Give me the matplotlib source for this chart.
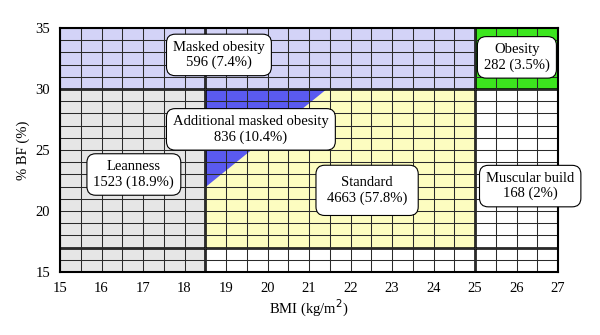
import numpy as np
import matplotlib
matplotlib.use("Agg")
import matplotlib.pyplot as plt

plt.rcParams['font.family'] = ['Liberation Serif', 'DejaVu Serif']

# ---- data ----
bmi_cut = [18.5, 25.0]          # BMI thresholds (kg/m2)
bf_cut = [17.0, 30.0]           # %BF thresholds
bmi_range = [15, 27]
bf_range = [15, 35]

region_names = ["Masked obesity", "Obesity", "Leanness", "Standard",
                "Muscular build", "Additional masked obesity"]
region_counts = [596, 282, 1523, 4663, 168, 836]
region_pcts = ["7.4%", "3.5%", "18.9%", "57.8%", "2%", "10.4%"]

# rectangles: (bmi_lo, bmi_hi, bf_lo, bf_hi)
region_rects = {
    "Masked obesity": (15, 25, 30, 35),
    "Obesity": (25, 27, 30, 35),
    "Leanness": (15, 18.5, 15, 30),
    "Standard": (18.5, 25, 17, 30),
}
# additional masked obesity polygon (BMI, %BF)
amo_bmi = [18.5, 21.43, 18.5]
amo_bf = [30.0, 30.0, 21.94]

colors = {
    "Masked obesity": "#d3d3f7",
    "Obesity": "#3ce61e",
    "Leanness": "#e6e6e6",
    "Standard": "#fdfdc0",
    "Additional masked obesity": "#5a5af0",
}

# label positions (data coords) and box padding
label_pos = {
    "Masked obesity": (18.83, 32.8),
    "Obesity": (26.01, 32.6),
    "Leanness": (16.78, 23.0),
    "Standard": (22.4, 21.7),
    "Muscular build": (26.33, 22.05),
    "Additional masked obesity": (19.6, 26.7),
}
label_pad = {"Standard": 0.75}

fig = plt.figure(figsize=(6.0, 3.35), dpi=100)
ax = fig.add_axes([0.1, 0.188, 0.83, 0.7284])

for name, (x0, x1, y0, y1) in region_rects.items():
    ax.fill([x0, x1, x1, x0], [y0, y0, y1, y1], color=colors[name], lw=0, zorder=0)
ax.fill(amo_bmi, amo_bf, color=colors["Additional masked obesity"], lw=0, zorder=0.5)

ax.set_xlim(*bmi_range)
ax.set_ylim(*bf_range)
ax.set_xticks(np.arange(15, 27.01, 1))
ax.set_yticks(np.arange(15, 35.01, 5))
ax.set_xticks(np.arange(15, 27.01, 0.5), minor=True)
ax.set_yticks(np.arange(15, 35.01, 1), minor=True)
ax.grid(True, which='both', color='#2a2a2a', lw=0.75, zorder=1)
ax.set_axisbelow(False)
ax.tick_params(which='both', length=0, labelsize=10.5, pad=7)

for v in bmi_cut:
    ax.axvline(v, color='black', lw=1.8, zorder=2)
for h in bf_cut:
    ax.axhline(h, color='black', lw=1.8, zorder=2)
for s in ax.spines.values():
    s.set_linewidth(1.5)
    s.set_zorder(3)

for name, n, p in zip(region_names, region_counts, region_pcts):
    x, y = label_pos[name]
    pad = label_pad.get(name, 0.45)
    ax.text(x, y, f"{name}\n{n} ({p})", ha='center', va='center', fontsize=10.5,
            linespacing=1.2, zorder=5, clip_on=False,
            bbox=dict(boxstyle=f"round,pad={pad},rounding_size=0.6",
                      fc='white', ec='black', lw=0.8))

ax.set_xlabel("BMI (kg/m$^2$)", fontsize=10.5, labelpad=2)
ax.set_ylabel("% BF (%)", fontsize=10.5, labelpad=4)

fig.savefig("out.png", dpi=100)
